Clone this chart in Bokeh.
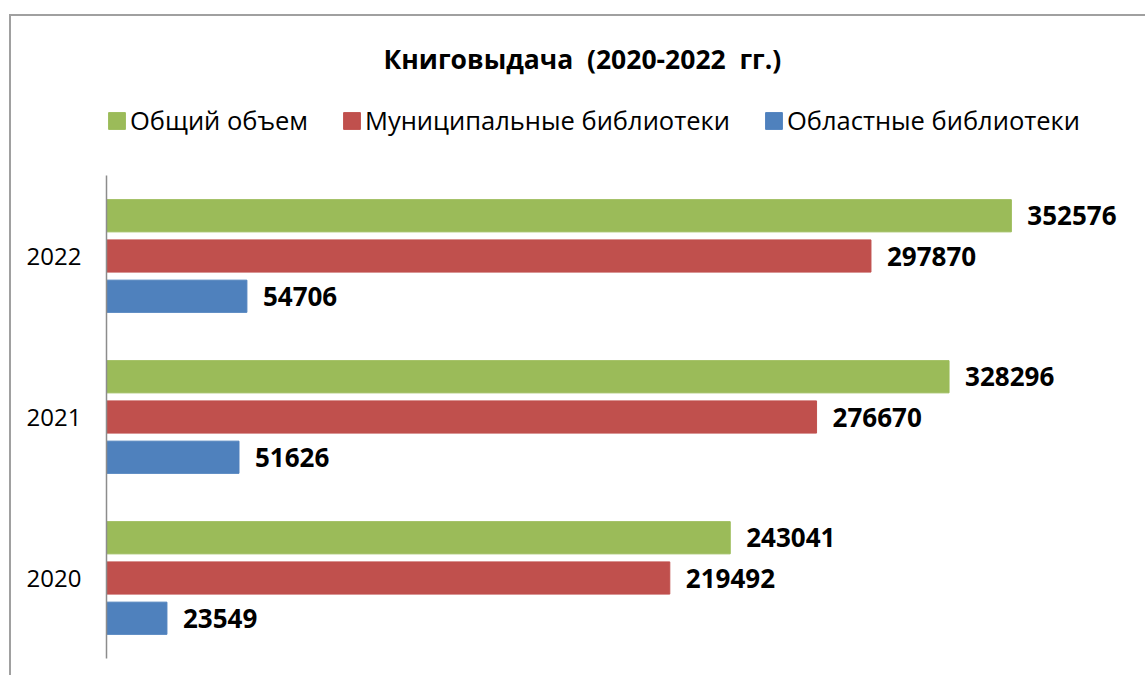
from bokeh.plotting import figure
from bokeh.models import ColumnDataSource, Range1d, Legend, LegendItem, FixedTicker
from bokeh.transform import dodge
from bokeh.core.properties import value
from bokeh.embed import file_html
from bokeh.resources import INLINE

years = ["2020", "2021", "2022"]
series_names = ["Общий объем", "Муниципальные библиотеки", "Областные библиотеки"]
total = [243041, 328296, 352576]
municipal = [219492, 276670, 297870]
regional = [23549, 51626, 54706]
colors = ["#9BBB59", "#C0504D", "#4F81BD"]
title_text = "Книговыдача\u00a0 (2020-2022\u00a0 гг.)"

ypos = [i + 0.5 for i in range(len(years))]

src = ColumnDataSource(dict(
    ypos=ypos,
    total=total, municipal=municipal, regional=regional,
    total_lbl=[str(v) for v in total],
    municipal_lbl=[str(v) for v in municipal],
    regional_lbl=[str(v) for v in regional],
))

FONT = "Open Sans"
FRAME_TOP = 65
FRAME_BOTTOM = 642
CAT_PX = 161.0

p = figure(width=1136, height=661,
           y_range=Range1d(0, (FRAME_BOTTOM - FRAME_TOP) / CAT_PX), x_range=Range1d(0, 399000),
           output_backend="svg", toolbar_location=None,
           min_border_left=95, min_border_right=17, min_border_bottom=661 - FRAME_BOTTOM,
           min_border_top=FRAME_TOP,
           margin=(14, 0, 0, 9),
           styles={"border-left": "2px solid #a0a0a0", "border-top": "2px solid #a0a0a0"})

p.xaxis.visible = False
p.xgrid.visible = False
p.ygrid.visible = False
p.outline_line_color = None

ax = p.yaxis[0]
ax.ticker = FixedTicker(ticks=ypos)
ax.major_label_overrides = {y: yr for y, yr in zip(ypos, years)}
ax.bounds = (0, len(years))
ax.axis_line_color = "#8c8c8c"
ax.axis_line_width = 1.5
ax.major_tick_line_color = None
ax.minor_tick_line_color = None
ax.major_tick_out = 0
ax.major_tick_in = 0
ax.major_label_standoff = 25
ax.major_label_text_font = FONT
ax.major_label_text_font_size = "24px"
ax.major_label_text_color = "black"

offsets = [0.25, 0.0, -0.25]
fields = ["total", "municipal", "regional"]
renderers = []
for f, off, c in zip(fields, offsets, colors):
    r = p.hbar(y=dodge("ypos", off), left=0, right=f, height=0.2,
               source=src, fill_color=c, line_color=c)
    renderers.append(r)
    p.text(x=f, y=dodge("ypos", off), text=f + "_lbl", source=src,
           x_offset=16, text_baseline="middle", text_align="left",
           text_font=value(FONT), text_font_style="bold", text_font_size="26px",
           text_color="black")

legend = Legend(items=[LegendItem(label=n, renderers=[r]) for n, r in zip(series_names, renderers)],
                orientation="horizontal", location=(0, 521),
                glyph_width=21, glyph_height=21, label_standoff=3, spacing=33,
                padding=0, margin=0, border_line_color=None, background_fill_alpha=0,
                label_text_font=FONT, label_text_font_size="25.5px", label_text_color="black")
p.add_layout(legend, "center")

p.title.text = title_text
p.title.text_font = FONT
p.title.text_font_size = "26.5px"
p.title.text_font_style = "bold"
p.title.align = "left"
p.title.offset = 277
p.title.standoff = 10
p.title.text_color = "black"

open("out.html", "w").write(file_html(p, INLINE))
